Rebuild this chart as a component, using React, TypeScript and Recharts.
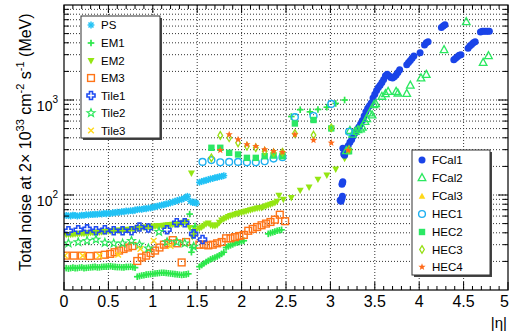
import { ScatterChart, Scatter, XAxis, YAxis, CartesianGrid } from 'recharts'

type Pt = [number, number]

// [|eta|, noise in MeV]
const psNoise: Pt[] = [
  [0.025, 61], [0.05, 60.5], [0.075, 60], [0.1, 61.5], [0.125, 61], [0.15, 60], [0.175, 60.5], [0.2, 61.5],
  [0.225, 61], [0.25, 62], [0.275, 61.5], [0.3, 62.5], [0.325, 62], [0.35, 63], [0.375, 62.5], [0.4, 63.5],
  [0.425, 63], [0.45, 64], [0.475, 63.5], [0.5, 64.5], [0.525, 64], [0.55, 65], [0.575, 65], [0.6, 66],
  [0.625, 65.5], [0.65, 67], [0.675, 66.5], [0.7, 68], [0.725, 67.5], [0.75, 68.5], [0.775, 68], [0.8, 69.5],
  [0.825, 70], [0.85, 71], [0.875, 70.5], [0.9, 72], [0.925, 71.5], [0.95, 73], [0.975, 73], [1.0, 74.5],
  [1.025, 75], [1.05, 76.5], [1.075, 77], [1.1, 78.5], [1.125, 79], [1.15, 80.5], [1.175, 81], [1.2, 83],
  [1.225, 84], [1.25, 86], [1.275, 87], [1.3, 89], [1.325, 90], [1.35, 92.5], [1.375, 94], [1.39, 97],
  [1.425, 86], [1.45, 83], [1.475, 84], [1.49, 82],
  [1.525, 136], [1.55, 139], [1.575, 141], [1.6, 143], [1.625, 145], [1.65, 148], [1.675, 149], [1.7, 152],
  [1.725, 153], [1.75, 156], [1.775, 157], [1.8, 160],
]

const em1Noise: Pt[] = [
  [0.025, 17], [0.05, 16.8], [0.075, 17], [0.1, 17.2], [0.125, 17], [0.15, 17], [0.175, 17.2], [0.2, 17.3],
  [0.225, 17], [0.25, 17.1], [0.275, 17.2], [0.3, 17.3], [0.325, 17.4], [0.35, 17.5], [0.375, 17.3], [0.4, 17.3],
  [0.425, 17.5], [0.45, 17.6], [0.475, 17.6], [0.5, 17.7], [0.525, 17.8], [0.55, 17.6], [0.575, 17.5], [0.6, 17.4],
  [0.625, 17.4], [0.65, 17.3], [0.675, 17.3], [0.7, 17.5], [0.725, 17.5], [0.75, 17.6], [0.775, 17.4], [0.8, 17.2],
  [0.825, 13.8], [0.85, 14], [0.875, 14.2], [0.9, 14.3], [0.925, 14.5], [0.95, 14.6], [0.975, 14.7], [1.0, 14.8],
  [1.025, 14.9], [1.05, 15], [1.075, 15.1], [1.1, 15.2], [1.125, 15.2], [1.15, 15.1], [1.175, 15], [1.2, 14.9],
  [1.225, 14.8], [1.25, 14.7], [1.275, 14.6], [1.3, 14.5], [1.325, 14.4], [1.35, 14.5], [1.375, 14.6], [1.4, 14.8],
  [1.415, 63], [1.435, 25], [1.445, 28], [1.455, 43], [1.475, 47],
  [1.525, 17.6], [1.55, 18.3], [1.575, 19], [1.6, 19.7], [1.625, 20.3], [1.65, 21], [1.675, 21.5], [1.7, 22],
  [1.725, 22.5], [1.75, 23.2], [1.775, 24], [1.8, 25],
  [1.825, 28], [1.85, 28.8], [1.875, 29.5], [1.9, 30.2], [1.925, 31], [1.95, 31.5], [1.975, 32], [2.0, 32.5],
  [2.025, 33],
  [2.3, 39], [2.325, 39.8], [2.35, 40.5], [2.375, 41.2], [2.4, 42], [2.425, 42.5], [2.45, 43],
  [2.56, 670], [2.66, 790], [2.77, 750], [2.86, 795], [2.96, 840], [3.06, 920], [3.16, 1000],
]

const em2Noise: Pt[] = [
  [0.025, 38], [0.05, 38], [0.075, 38], [0.1, 38.3], [0.125, 38.5], [0.15, 38.8], [0.175, 39], [0.2, 39],
  [0.225, 39], [0.25, 39.3], [0.275, 39.5], [0.3, 39.8], [0.325, 40], [0.35, 40], [0.375, 40], [0.4, 40.3],
  [0.425, 40.5], [0.45, 40.8], [0.475, 41], [0.5, 41.2], [0.525, 41.5], [0.55, 41.8], [0.575, 42], [0.6, 42],
  [0.625, 42], [0.65, 42.3], [0.675, 42.5], [0.7, 42.8], [0.725, 43], [0.75, 43.2], [0.775, 43.5], [0.8, 43.8],
  [0.825, 44], [0.85, 44.5], [0.875, 45], [0.9, 45.2], [0.925, 45.5], [0.95, 45.8], [0.975, 46], [1.0, 46.2],
  [1.025, 46.5], [1.05, 46.8], [1.075, 47], [1.1, 47.2], [1.125, 47.5], [1.15, 47.8], [1.175, 48], [1.2, 48.2],
  [1.225, 48.5], [1.25, 48.8], [1.275, 49], [1.3, 49.5], [1.325, 50], [1.35, 51], [1.375, 52],
  [1.415, 45], [1.435, 168], [1.445, 36], [1.465, 38], [1.485, 42],
  [1.525, 44], [1.55, 45.5], [1.575, 47], [1.6, 49], [1.625, 50], [1.65, 48], [1.675, 47], [1.7, 47],
  [1.725, 48], [1.75, 51], [1.775, 54], [1.8, 55.5], [1.825, 57], [1.85, 58.5], [1.875, 60], [1.9, 61],
  [1.925, 62], [1.95, 63], [1.975, 64], [2.0, 65], [2.025, 66], [2.05, 67], [2.075, 68], [2.1, 69],
  [2.125, 70], [2.15, 71], [2.175, 72], [2.2, 72.5], [2.225, 73], [2.25, 74.5], [2.275, 76], [2.3, 77.5],
  [2.325, 79], [2.35, 80.5], [2.375, 82], [2.4, 85], [2.42, 98], [2.47, 89],
  [2.56, 93], [2.66, 111], [2.76, 120], [2.86, 145], [2.96, 160], [3.06, 185], [3.16, 240],
]

const em3Noise: Pt[] = [
  [0.02, 23], [0.11, 23], [0.2, 23], [0.29, 22.8], [0.38, 23], [0.46, 23.5], [0.52, 24], [0.57, 25],
  [0.62, 26], [0.67, 27], [0.72, 28], [0.77, 29],
  [0.825, 20.2], [0.875, 22], [0.925, 23], [0.975, 24.5], [1.025, 26], [1.075, 28], [1.125, 30], [1.175, 31],
  [1.225, 33.5], [1.275, 31], [1.325, 19.5], [1.375, 32],
  [1.525, 30], [1.575, 30], [1.625, 29.5], [1.675, 30], [1.725, 31], [1.775, 32], [1.825, 35], [1.875, 35],
  [1.925, 36], [1.975, 37], [2.025, 38], [2.075, 42], [2.125, 44], [2.175, 46], [2.225, 48], [2.275, 50],
  [2.325, 52], [2.375, 55], [2.43, 62], [2.49, 53],
]

const tile1Noise: Pt[] = [
  [0.05, 42], [0.16, 43], [0.26, 44], [0.36, 42], [0.46, 43], [0.56, 42], [0.66, 42], [0.76, 42],
  [0.85, 46], [0.95, 45], [1.16, 43], [1.27, 51], [1.36, 51], [1.46, 39], [1.56, 34],
]

const tile2Noise: Pt[] = [
  [0.05, 31], [0.16, 32], [0.26, 33], [0.36, 34], [0.46, 31.5], [0.56, 31], [0.66, 31], [0.76, 33],
  [0.85, 30], [0.95, 27.5], [1.07, 41], [1.16, 32], [1.27, 32], [1.36, 31], [1.46, 28.7],
]

const tile3Noise: Pt[] = [
  [0.01, 23], [0.21, 23], [0.4, 23], [0.61, 23.5], [0.86, 27], [1.01, 33], [1.2, 29],
]

const fcal1Noise: Pt[] = [
  [3.11, 88], [3.12, 86], [3.13, 92], [3.135, 97], [3.13, 130], [3.14, 138], [3.135, 134],
  [3.14, 310], [3.15, 270], [3.16, 262], [3.17, 285], [3.19, 310], [3.2, 330], [3.22, 360], [3.24, 384],
  [3.26, 420], [3.28, 452], [3.3, 490], [3.32, 520], [3.34, 560], [3.36, 610], [3.38, 680], [3.4, 750],
  [3.42, 820], [3.44, 870], [3.46, 930], [3.48, 1050], [3.5, 1150], [3.52, 1260], [3.54, 1350], [3.56, 1430],
  [3.58, 1530], [3.6, 1640], [3.62, 1800], [3.64, 1870], [3.66, 1800], [3.68, 1720], [3.7, 1700], [3.72, 1760],
  [3.74, 1830], [3.76, 1950], [3.78, 2080], [3.86, 2350], [3.88, 2480], [3.9, 2600], [3.92, 2750], [3.94, 2900],
  [4.01, 3150], [4.06, 3800], [4.08, 4000], [4.1, 4100], [4.25, 5800], [4.27, 6000], [4.29, 6200],
  [4.39, 2650], [4.41, 2750], [4.43, 2850], [4.45, 2950], [4.47, 3000], [4.55, 3500], [4.57, 3700], [4.59, 3850],
  [4.61, 4000], [4.63, 4100], [4.69, 5200], [4.71, 5300], [4.73, 5300], [4.75, 5300], [4.77, 5300], [4.79, 5300],
]

const fcal2Noise: Pt[] = [
  [3.18, 295], [3.22, 480], [3.25, 440], [3.28, 470], [3.31, 490], [3.34, 500], [3.36, 520], [3.39, 600],
  [3.41, 640], [3.44, 735], [3.47, 700], [3.49, 900], [3.51, 920], [3.58, 1100], [3.62, 1170], [3.65, 1240],
  [3.74, 1240], [3.76, 1190], [3.86, 1180], [3.9, 1440], [4.02, 1720], [4.08, 1870], [4.28, 3400], [4.53, 6700],
  [4.72, 2500], [4.78, 2950],
]

const fcal3Noise: Pt[] = []

const hec1Noise: Pt[] = [
  [1.56, 223], [1.66, 233], [1.76, 221], [1.86, 223], [1.96, 223], [2.06, 221], [2.16, 221], [2.26, 227],
  [2.36, 242], [2.46, 250], [2.6, 660], [2.81, 678], [3.01, 910], [3.21, 463],
]

const hec2Noise: Pt[] = [
  [1.66, 314], [1.76, 314], [1.86, 278], [1.96, 267], [2.06, 246], [2.16, 246], [2.26, 256], [2.36, 260],
  [2.46, 256], [2.6, 566], [2.81, 616], [3.01, 502], [3.21, 289],
]

const hec3Noise: Pt[] = [
  [1.66, 246], [1.76, 424], [1.86, 400], [1.96, 354], [2.06, 326], [2.16, 314], [2.26, 289], [2.36, 278],
  [2.46, 282], [2.6, 444], [2.81, 427], [3.01, 510], [3.21, 301],
]

const hec4Noise: Pt[] = [
  [1.76, 296], [1.86, 433], [1.96, 384], [2.06, 340], [2.16, 326], [2.26, 301], [2.36, 289], [2.46, 282],
  [2.6, 433], [2.81, 378], [3.01, 354], [3.2, 296],
]

const etaLabels = ['0', '0.5', '1', '1.5', '2', '2.5', '3', '3.5', '4', '4.5', '5']
const decadeTicks = [100, 1000]

const W = 509
const H = 332
const PLOT_LEFT = 64
const PLOT_RIGHT = 508
const PLOT_TOP = 5
const PLOT_BOTTOM = 290

type Kind =
  | 'asterisk' | 'plus' | 'triDown' | 'squareOpen' | 'crossOpen' | 'starOpen' | 'x'
  | 'circle' | 'triUpOpen' | 'triUp' | 'circleOpen' | 'square' | 'diamondOpen' | 'star'

const SERIES: { name: string; data: Pt[]; color: string; kind: Kind }[] = [
  { name: 'PS', data: psNoise, color: '#22c2f5', kind: 'asterisk' },
  { name: 'EM1', data: em1Noise, color: '#2be84a', kind: 'plus' },
  { name: 'EM2', data: em2Noise, color: '#94e612', kind: 'triDown' },
  { name: 'EM3', data: em3Noise, color: '#ff7417', kind: 'squareOpen' },
  { name: 'Tile1', data: tile1Noise, color: '#1f4cf2', kind: 'crossOpen' },
  { name: 'Tile2', data: tile2Noise, color: '#2be85a', kind: 'starOpen' },
  { name: 'Tile3', data: tile3Noise, color: '#ffd81a', kind: 'x' },
  { name: 'FCal1', data: fcal1Noise, color: '#1a44e8', kind: 'circle' },
  { name: 'FCal2', data: fcal2Noise, color: '#2be860', kind: 'triUpOpen' },
  { name: 'FCal3', data: fcal3Noise, color: '#ffd81a', kind: 'triUp' },
  { name: 'HEC1', data: hec1Noise, color: '#1eb0f0', kind: 'circleOpen' },
  { name: 'HEC2', data: hec2Noise, color: '#2be864', kind: 'square' },
  { name: 'HEC3', data: hec3Noise, color: '#96e014', kind: 'diamondOpen' },
  { name: 'HEC4', data: hec4Noise, color: '#ff6a1a', kind: 'star' },
]

const toRows = (pts: Pt[]) => pts.map(([eta, noise]) => ({ eta, noise }))

const etaTicks: number[] = []
for (let i = 0; i <= 50; i++) etaTicks.push(i / 10)

const noiseTicks: number[] = []
for (const d of [10, 100, 1000]) for (let m = 1; m <= 9; m++) if (d * m > 10) noiseTicks.push(d * m)

const gridNoise = noiseTicks
const gridEta = etaTicks.filter((v, i) => i % 5 === 0 && v > 0 && v < 5)

function starPoints(cx: number, cy: number, R: number, r: number) {
  const pts: string[] = []
  for (let i = 0; i < 10; i++) {
    const a = -Math.PI / 2 + (i * Math.PI) / 5
    const rad = i % 2 === 0 ? R : r
    pts.push(`${cx + rad * Math.cos(a)},${cy + rad * Math.sin(a)}`)
  }
  return pts.join(' ')
}

function Marker({ kind, color, cx, cy }: { kind: Kind; color: string; cx: number; cy: number }) {
  if (cx == null || cy == null || isNaN(cx) || isNaN(cy)) return null
  switch (kind) {
    case 'asterisk': {
      const r = 3.4
      const d = 2.5
      return (
        <g stroke={color} strokeWidth={1.5}>
          <line x1={cx - r} x2={cx + r} y1={cy} y2={cy} />
          <line x1={cx} x2={cx} y1={cy - r} y2={cy + r} />
          <line x1={cx - d} x2={cx + d} y1={cy - d} y2={cy + d} />
          <line x1={cx - d} x2={cx + d} y1={cy + d} y2={cy - d} />
        </g>
      )
    }
    case 'plus': {
      const r = 3.3
      return (
        <g stroke={color} strokeWidth={1.7}>
          <line x1={cx - r} x2={cx + r} y1={cy} y2={cy} />
          <line x1={cx} x2={cx} y1={cy - r} y2={cy + r} />
        </g>
      )
    }
    case 'x': {
      const r = 2.8
      return (
        <g stroke={color} strokeWidth={1.4}>
          <line x1={cx - r} x2={cx + r} y1={cy - r} y2={cy + r} />
          <line x1={cx - r} x2={cx + r} y1={cy + r} y2={cy - r} />
        </g>
      )
    }
    case 'triDown':
      return <polygon points={`${cx - 3.5},${cy - 3} ${cx + 3.5},${cy - 3} ${cx},${cy + 3.4}`} fill={color} />
    case 'triUp':
      return <polygon points={`${cx - 3.3},${cy + 2.8} ${cx + 3.3},${cy + 2.8} ${cx},${cy - 3.2}`} fill={color} />
    case 'triUpOpen':
      return (
        <polygon
          points={`${cx - 3.8},${cy + 3.2} ${cx + 3.8},${cy + 3.2} ${cx},${cy - 3.8}`}
          fill="none"
          stroke={color}
          strokeWidth={1.3}
        />
      )
    case 'squareOpen':
      return <rect x={cx - 3.4} y={cy - 3.4} width={6.8} height={6.8} fill="none" stroke={color} strokeWidth={1.4} />
    case 'square':
      return <rect x={cx - 3.2} y={cy - 3.2} width={6.4} height={6.4} fill={color} />
    case 'circle':
      return <circle cx={cx} cy={cy} r={3.5} fill={color} />
    case 'circleOpen':
      return <circle cx={cx} cy={cy} r={3.4} fill="none" stroke={color} strokeWidth={1.4} />
    case 'diamondOpen':
      return (
        <polygon
          points={`${cx},${cy - 3.8} ${cx + 2.3},${cy} ${cx},${cy + 3.8} ${cx - 2.3},${cy}`}
          fill="none"
          stroke={color}
          strokeWidth={1.3}
        />
      )
    case 'crossOpen': {
      const a = 1.5
      const b = 4
      const p = [
        [-a, -b], [a, -b], [a, -a], [b, -a], [b, a], [a, a], [a, b], [-a, b], [-a, a], [-b, a], [-b, -a], [-a, -a],
      ]
      return (
        <polygon
          points={p.map(([dx, dy]) => `${cx + dx},${cy + dy}`).join(' ')}
          fill="none"
          stroke={color}
          strokeWidth={1.6}
        />
      )
    }
    case 'starOpen':
      return <polygon points={starPoints(cx, cy, 4.2, 1.8)} fill="none" stroke={color} strokeWidth={1.2} />
    case 'star':
      return <polygon points={starPoints(cx, cy, 3.8, 1.6)} fill={color} />
  }
  return null
}

function fmtEta(v: number) {
  const s = v.toFixed(1)
  return s.endsWith('.0') ? s.slice(0, -2) : s
}

function EtaTick({ x, payload }: any) {
  const v = payload.value as number
  const major = Math.abs(v * 2 - Math.round(v * 2)) < 1e-6
  const len = major ? 8 : 4
  const label = fmtEta(v)
  const last = label === etaLabels[etaLabels.length - 1]
  return (
    <g>
      <line x1={x} x2={x} y1={PLOT_BOTTOM} y2={PLOT_BOTTOM - len} stroke="#000" />
      <line x1={x} x2={x} y1={PLOT_TOP} y2={PLOT_TOP + len} stroke="#000" />
      {major && etaLabels.includes(label) && (
        <text x={last ? W : x} y={307} textAnchor={last ? 'end' : 'middle'} fontSize={16} fill="#000">
          {label}
        </text>
      )}
    </g>
  )
}

function NoiseTick({ y, payload }: any) {
  const v = payload.value as number
  const major = decadeTicks.includes(v)
  const len = major ? 10 : 5
  const exp = Math.round(Math.log10(v))
  return (
    <g>
      <line x1={PLOT_LEFT} x2={PLOT_LEFT + len} y1={y} y2={y} stroke="#000" />
      <line x1={PLOT_RIGHT} x2={PLOT_RIGHT - len} y1={y} y2={y} stroke="#000" />
      {major && (
        <text x={58} y={y + 11} textAnchor="end" fontSize={14} fill="#000">
          10
          <tspan fontSize={10} dy={-8}>
            {exp}
          </tspan>
        </text>
      )}
    </g>
  )
}

function LegendBox({
  x,
  y,
  w,
  h,
  items,
  rowY,
}: {
  x: number
  y: number
  w: number
  h: number
  items: typeof SERIES
  rowY: number[]
}) {
  return (
    <g>
      <rect x={x + 2} y={y + 2} width={w} height={h} fill="#444" />
      <rect x={x} y={y} width={w} height={h} fill="#fff" stroke="#333" strokeWidth={1} />
      {items.map((s, i) => (
        <g key={s.name}>
          <Marker kind={s.kind} color={s.color} cx={x + 10} cy={rowY[i]} />
          <text x={x + 20} y={rowY[i] + 4} fontSize={11.5} fill="#000">
            {s.name}
          </text>
        </g>
      ))}
    </g>
  )
}

export default function App() {
  return (
    <div
      style={{
        position: 'absolute',
        left: 0,
        top: 0,
        width: W,
        height: H,
        background: '#fff',
        fontFamily: '"Liberation Sans", Arial, sans-serif',
      }}
    >
      <ScatterChart width={W} height={H} margin={{ top: PLOT_TOP, right: W - PLOT_RIGHT, bottom: 0, left: 0 }}>
        <CartesianGrid
          stroke="#333"
          strokeDasharray="1 2"
          horizontalValues={gridNoise}
          verticalValues={gridEta}
        />
        <XAxis
          type="number"
          dataKey="eta"
          domain={[0, 5]}
          ticks={etaTicks}
          interval={0}
          height={H - PLOT_BOTTOM}
          axisLine={false}
          tickLine={false}
          tick={<EtaTick />}
          allowDataOverflow
        />
        <YAxis
          type="number"
          dataKey="noise"
          scale="log"
          domain={[10, 10000]}
          ticks={noiseTicks}
          interval={0}
          width={PLOT_LEFT}
          axisLine={false}
          tickLine={false}
          tick={<NoiseTick />}
          allowDataOverflow
        />
        {SERIES.map((s) => (
          <Scatter
            key={s.name}
            name={s.name}
            data={toRows(s.data)}
            isAnimationActive={false}
            shape={(p: any) => <Marker kind={s.kind} color={s.color} cx={p.cx} cy={p.cy} />}
          />
        ))}
      </ScatterChart>
      <svg
        width={W}
        height={H}
        style={{ position: 'absolute', left: 0, top: 0, pointerEvents: 'none' }}
        fontFamily='"Liberation Sans", Arial, sans-serif'
      >
        <rect
          x={PLOT_LEFT}
          y={PLOT_TOP}
          width={PLOT_RIGHT - PLOT_LEFT}
          height={PLOT_BOTTOM - PLOT_TOP}
          fill="none"
          stroke="#000"
          strokeWidth={1.2}
        />
        <LegendBox x={81} y={16} w={79} h={122} items={SERIES.slice(0, 7)} rowY={[25, 43, 61, 78, 95.5, 113, 130.5]} />
        <LegendBox
          x={412}
          y={150}
          w={78}
          h={125}
          items={SERIES.slice(7)}
          rowY={[160, 177.5, 196, 214, 232, 249.5, 267]}
        />
        <text x={507} y={328} textAnchor="end" fontSize={15} fill="#000">
          |η|
        </text>
        <text transform="translate(31,142) rotate(-90)" textAnchor="middle" fontSize={16} fill="#000">
          Total noise at 2× 10
          <tspan fontSize={11} dy={-7}>
            33
          </tspan>
          <tspan dy={7}> cm</tspan>
          <tspan fontSize={11} dy={-7}>
            -2
          </tspan>
          <tspan dy={7}> s</tspan>
          <tspan fontSize={11} dy={-7}>
            -1
          </tspan>
          <tspan dy={7}> (MeV)</tspan>
        </text>
      </svg>
    </div>
  )
}
